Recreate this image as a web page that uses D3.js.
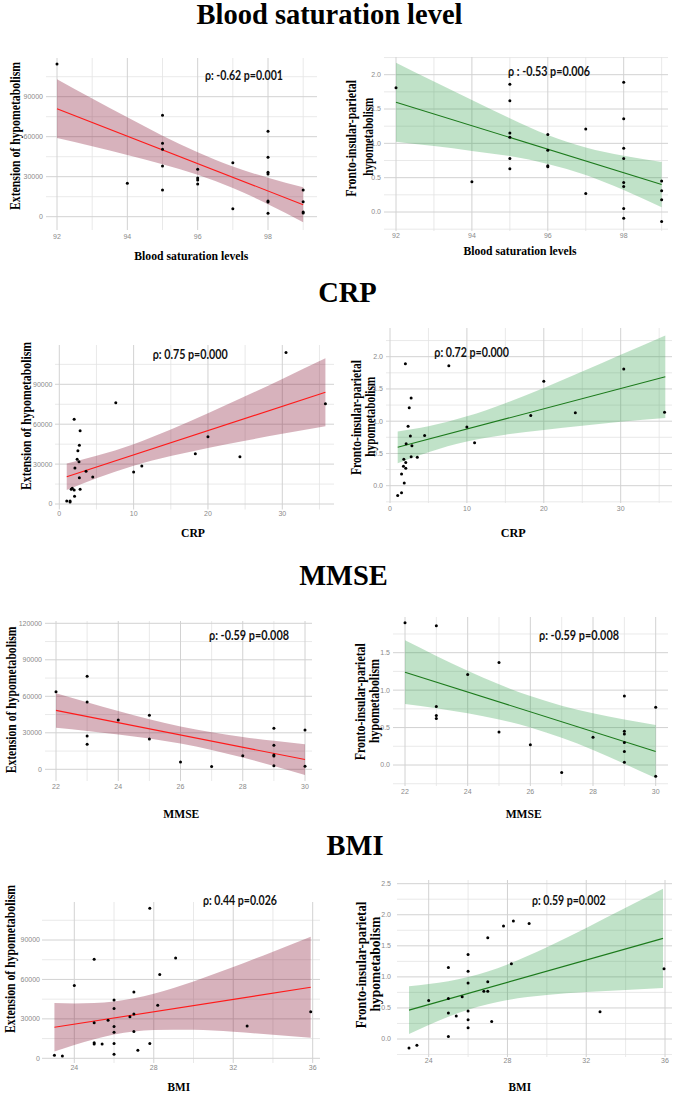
<!DOCTYPE html>
<html><head><meta charset="utf-8">
<script src="https://cdn.jsdelivr.net/npm/d3@7"></script>
<style>body{margin:0;background:#fff}svg{display:block}</style>
</head><body>
<svg id="chart" width="677" height="1095"></svg>
<script>
// ================= DATA =================
const sectionTitles = ["Blood saturation level", "CRP", "MMSE", "BMI"];
const xAxisTitles = ["Blood saturation levels", "Blood saturation levels", "CRP", "CRP", "MMSE", "MMSE", "BMI", "BMI"];
const yTitleExt = ["Extension of hypometabolism"];
const yTitleFronto = ["Fronto-insular-parietal", "hypometabolism"];
const rhoLabels = ["ρ: -0.62 p=0.001", "ρ : -0.53 p=0.006", "ρ: 0.75 p=0.000", "ρ: 0.72 p=0.000",
                   "ρ: -0.59 p=0.008", "ρ: -0.59 p=0.008", "ρ: 0.44 p=0.026", "ρ: 0.59 p=0.002"];

// tick labels
const satTicks = [92, 94, 96, 98];
const crpTicks = [0, 10, 20, 30];
const mmseTicks = [22, 24, 26, 28, 30];
const bmiTicks = [24, 28, 32, 36];
const extTicks = [0, 30000, 60000, 90000];
const extTicksMMSE = [0, 30000, 60000, 90000, 120000];
const frontoTicks2 = [0, 0.5, 1.0, 1.5, 2.0];
const frontoTicksMMSE = [0, 0.5, 1.0, 1.5];
const frontoTicksBMI = [0, 0.5, 1.0, 1.5, 2.0, 2.5];

// --- Blood saturation vs extension
const satExtX = [92, 94, 95, 95, 95, 95, 95, 96, 96, 96, 96, 97, 97, 98, 98, 98, 98, 98, 98, 98, 99, 99, 99, 99];
const satExtY = [114500, 25000, 76000, 55000, 50500, 38000, 20000, 35500, 29000, 27500, 24500, 40500, 6000,
                 64000, 44500, 33300, 32000, 11800, 11000, 2500, 20000, 11300, 3500, 2700];
const satExtFitX = [92, 99], satExtFitY = [81000, 9000];
const satExtBandX = [92, 93, 94, 95, 96, 97, 98, 99];
const satExtBandLo = [59000, 52800, 46300, 39400, 31500, 21600, 9400, -4100];
const satExtBandHi = [103000, 88600, 74500, 60800, 48300, 37600, 29200, 22100];

// --- Blood saturation vs fronto-insular-parietal
const satFroX = [92, 94, 95, 95, 95, 95, 95, 95, 96, 96, 96, 96, 97, 97, 98, 98, 98, 98, 98, 98, 98, 98, 99, 99, 99, 99];
const satFroY = [1.81, 0.44, 1.86, 1.62, 1.15, 1.09, 0.78, 0.63, 1.13, 0.90, 0.675, 0.66, 1.21, 0.27,
                 1.89, 1.36, 0.93, 0.78, 0.43, 0.37, 0.05, -0.09, 0.45, 0.31, 0.18, -0.14];
const satFroFitX = [92, 99], satFroFitY = [1.60, 0.40];
const satFroBandX = [92, 93, 94, 95, 96, 97, 98, 99];
const satFroBandLo = [1.025, 0.96, 0.89, 0.815, 0.70, 0.54, 0.32, 0.07];
const satFroBandHi = [2.175, 1.90, 1.63, 1.365, 1.12, 0.94, 0.82, 0.73];

// --- CRP vs extension
const crpExtX = [30.5, 7.6, 35.8, 2.0, 2.8, 2.7, 2.5, 20.0, 2.4, 2.65, 18.3, 24.3, 11.1, 2.1, 3.6, 10.0, 4.5, 2.7,
                 1.75, 2.0, 2.8, 1.6, 2.05, 1.0, 1.45, 1.45];
const crpExtY = [114000, 76200, 75400, 63700, 55100, 44100, 40100, 50600, 33600, 31800, 37800, 35600, 28600, 27100,
                 24600, 24100, 20300, 19800, 11800, 10500, 11000, 11000, 5800, 2300, 2300, 1500];
const crpExtFitX = [1, 35.8], crpExtFitY = [20500, 84000];
const crpExtBandX = [1, 5, 10, 15, 20, 25, 30, 35.8];
const crpExtBandLo = [10500, 19400, 28800, 36000, 42100, 47600, 52800, 58500];
const crpExtBandHi = [30500, 36200, 45000, 56000, 68300, 81000, 94000, 109500];

// --- CRP vs fronto-insular-parietal
const crpFroX = [2.0, 7.65, 30.4, 20.0, 2.75, 2.5, 35.7, 24.1, 18.3, 2.35, 10.0, 2.65, 4.5, 11.0, 2.1, 2.85,
                 2.75, 3.55, 1.8, 2.05, 1.75, 2.05, 1.5, 1.85, 1.5, 1.0];
const crpFroY = [1.89, 1.86, 1.81, 1.62, 1.36, 1.21, 1.14, 1.13, 1.09, 0.92, 0.91, 0.77, 0.78, 0.665, 0.65, 0.62,
                 0.45, 0.44, 0.41, 0.36, 0.30, 0.27, 0.18, 0.04, -0.11, -0.15];
const crpFroFitX = [1, 35.8], crpFroFitY = [0.595, 1.69];
const crpFroBandX = [1, 5, 10, 15, 20, 25, 30, 35.8];
const crpFroBandLo = [0.35, 0.52, 0.685, 0.79, 0.865, 0.93, 0.99, 1.05];
const crpFroBandHi = [0.84, 0.92, 1.075, 1.28, 1.515, 1.77, 2.03, 2.33];

// --- MMSE vs extension
const mmseExtX = [22, 23, 23, 23, 23, 24, 25, 25, 26, 27, 28, 29, 29, 29, 29, 29, 30, 30];
const mmseExtY = [63800, 76400, 55300, 27400, 20500, 40500, 44400, 24900, 6000, 2200, 11200, 33700, 19700, 11800,
                  11000, 3000, 32300, 2500];
const mmseExtFitX = [22, 30], mmseExtFitY = [48400, 8000];
const mmseExtBandX = [22, 23, 24, 25, 26, 27, 28, 29, 30];
const mmseExtBandLo = [34200, 31550, 28650, 25290, 21140, 15890, 9630, 2700, -4600];
const mmseExtBandHi = [62600, 55150, 47950, 41210, 35260, 30410, 26570, 23400, 20600];

// --- MMSE vs fronto-insular-parietal
const mmseFroX = [22, 23, 23, 23, 23, 24, 25, 25, 26, 27, 28, 29, 29, 29, 29, 29, 29, 30, 30];
const mmseFroY = [1.90, 1.86, 0.78, 0.66, 0.62, 1.21, 1.37, 0.44, 0.27, -0.10, 0.37, 0.92, 0.45, 0.415, 0.30,
                  0.18, 0.036, 0.77, -0.15];
const mmseFroFitX = [22, 30], mmseFroFitY = [1.24, 0.18];
const mmseFroBandX = [22, 23, 24, 25, 26, 27, 28, 29, 30];
const mmseFroBandLo = [0.815, 0.7575, 0.69, 0.6075, 0.50, 0.3625, 0.20, 0.0175, -0.175];
const mmseFroBandHi = [1.665, 1.4575, 1.26, 1.0775, 0.92, 0.7925, 0.69, 0.6075, 0.535];

// --- BMI vs extension
const bmiExtX = [27.8, 25.0, 29.1, 28.3, 24.0, 27.0, 26.0, 28.2, 26.0, 27.0, 26.8, 25.7, 25.0, 32.7, 26.0, 26.0,
                 27.0, 35.9, 25.0, 25.0, 25.4, 26.0, 27.8, 27.2, 26.0, 23.0, 23.4];
const bmiExtY = [114100, 75300, 76300, 63700, 55300, 50500, 44400, 40300, 37800, 33700, 31700, 28900, 27100,
                 24600, 24100, 19800, 20300, 35500, 11900, 10900, 10900, 11200, 11200, 6100, 3000, 2300, 1800];
const bmiExtFitX = [23, 35.9], bmiExtFitY = [23600, 54000];
const bmiExtBandX = [23, 24, 25, 26, 27, 28, 30, 32, 34, 35.9];
const bmiExtBandLo = [5200, 10160, 14510, 18070, 20430, 21590, 21700, 20220, 17930, 15600];
const bmiExtBandHi = [42000, 41760, 42110, 43270, 45630, 49190, 58500, 69420, 81130, 92400];

// --- BMI vs fronto-insular-parietal
const bmiFroX = [28.3, 27.8, 29.1, 27.0, 26.0, 28.2, 25.0, 35.95, 26.0, 27.0, 26.0, 26.8, 27.0, 25.7, 25.0, 24.0,
                 26.0, 25.0, 32.7, 25.4, 26.0, 27.2, 26.0, 25.0, 23.0, 23.4];
const bmiFroY = [1.90, 1.82, 1.86, 1.63, 1.36, 1.21, 1.15, 1.13, 1.09, 0.92, 0.90, 0.77, 0.77, 0.68, 0.65, 0.62,
                 0.45, 0.42, 0.44, 0.37, 0.31, 0.28, 0.18, 0.04, -0.145, -0.10];
const bmiFroFitX = [23, 35.9], bmiFroFitY = [0.465, 1.62];
const bmiFroBandX = [23, 24, 25, 26, 27, 28, 30, 32, 34, 35.9];
const bmiFroBandLo = [0.08, 0.225, 0.357, 0.471, 0.56, 0.626, 0.707, 0.755, 0.789, 0.82];
const bmiFroBandHi = [0.85, 0.885, 0.931, 0.997, 1.086, 1.20, 1.477, 1.787, 2.111, 2.42];

// ================= LAYOUT =================
const RED = {band: "#8b2240", bandOp: 0.35, line: "#ff1a1a"};
const GREEN = {band: "#2e9e48", bandOp: 0.3, line: "#1c7a1c"};
const fmtInt = d3.format("d"), fmt1 = d3.format(".1f");

const panels = [
  {px: satExtX, py: satExtY, fx: satExtFitX, fy: satExtFitY, bx: satExtBandX, blo: satExtBandLo, bhi: satExtBandHi,
   col: RED, xt: satTicks, yt: extTicks, yf: fmtInt,
   xs: [92, 98, 57, 268], ys: [0, 90000, 216.7, 96.7], rect: [46, 317, 58, 230], xLabY: 237, yLabX: 43,
   rho: [205, 75, 78], xTitle: [191.3, 260, 114], yTitle: yTitleExt, yPos: [[14.2, 136, 148]]},
  {px: satFroX, py: satFroY, fx: satFroFitX, fy: satFroFitY, bx: satFroBandX, blo: satFroBandLo, bhi: satFroBandHi,
   col: GREEN, xt: satTicks, yt: frontoTicks2, yf: fmt1,
   xs: [92, 98, 396, 623.7], ys: [0, 2, 212, 74.7], rect: [384, 668, 57, 231], xLabY: 236, yLabX: 381,
   rho: [508, 71, 82], xTitle: [520, 255, 113], yTitle: yTitleFronto, yPos: [[350.5, 138.3, 116.7], [367.5, 136.7, 78]]},
  {px: crpExtX, py: crpExtY, fx: crpExtFitX, fy: crpExtFitY, bx: crpExtBandX, blo: crpExtBandLo, bhi: crpExtBandHi,
   col: RED, xt: crpTicks, yt: extTicks, yf: fmtInt,
   xs: [0, 30, 59.3, 282.3], ys: [0, 90000, 504, 384.3], rect: [55, 334, 345, 509.5], xLabY: 514, yLabX: 52.5,
   rho: [152.7, 354, 75], xTitle: [193, 537, 24], yTitle: yTitleExt, yPos: [[25, 416, 148]]},
  {px: crpFroX, py: crpFroY, fx: crpFroFitX, fy: crpFroFitY, bx: crpFroBandX, blo: crpFroBandLo, bhi: crpFroBandHi,
   col: GREEN, xt: crpTicks, yt: frontoTicks2, yf: fmt1,
   xs: [0, 30, 390, 620.7], ys: [0, 2, 485.7, 356.7], rect: [386, 672, 328, 503], xLabY: 509, yLabX: 383,
   rho: [434.3, 352.3, 74.7], xTitle: [513.3, 537, 25], yTitle: yTitleFronto, yPos: [[355.9, 417.5, 115], [370.4, 416.7, 80]]},
  {px: mmseExtX, py: mmseExtY, fx: mmseExtFitX, fy: mmseExtFitY, bx: mmseExtBandX, blo: mmseExtBandLo, bhi: mmseExtBandHi,
   col: RED, xt: mmseTicks, yt: extTicksMMSE, yf: fmtInt,
   xs: [22, 30, 56, 305], ys: [0, 120000, 769.3, 623.3], rect: [45, 312, 621, 781], xLabY: 787, yLabX: 42,
   rho: [209, 635, 80], xTitle: [181.3, 818, 36], yTitle: yTitleExt, yPos: [[10, 700, 146.7]]},
  {px: mmseFroX, py: mmseFroY, fx: mmseFroFitX, fy: mmseFroFitY, bx: mmseFroBandX, blo: mmseFroBandLo, bhi: mmseFroBandHi,
   col: GREEN, xt: mmseTicks, yt: frontoTicksMMSE, yf: fmt1,
   xs: [22, 30, 405, 655.7], ys: [0, 1.5, 765, 652.7], rect: [393, 668, 617, 786], xLabY: 792, yLabX: 390,
   rho: [539, 635, 80], xTitle: [523.7, 818, 36], yTitle: yTitleFronto, yPos: [[359.9, 701.7, 117], [374, 701, 84]]},
  {px: bmiExtX, py: bmiExtY, fx: bmiExtFitX, fy: bmiExtFitY, bx: bmiExtBandX, blo: bmiExtBandLo, bhi: bmiExtBandHi,
   col: RED, xt: bmiTicks, yt: extTicks, yf: fmtInt,
   xs: [24, 36, 74.3, 312.7], ys: [0, 90000, 1058.3, 940], rect: [42, 320, 902, 1063], xLabY: 1067.5, yLabX: 40,
   rho: [203, 900, 74], xTitle: [178.8, 1091, 22.5], yTitle: yTitleExt, yPos: [[9.5, 959, 148]]},
  {px: bmiFroX, py: bmiFroY, fx: bmiFroFitX, fy: bmiFroFitY, bx: bmiFroBandX, blo: bmiFroBandLo, bhi: bmiFroBandHi,
   col: GREEN, xt: bmiTicks, yt: frontoTicksBMI, yf: fmt1,
   xs: [24, 36, 428.7, 665], ys: [0, 2.5, 1039, 883.7], rect: [397, 672, 880, 1057], xLabY: 1061, yLabX: 391,
   rho: [532, 900, 73.7], xTitle: [519.8, 1091, 22.5], yTitle: yTitleFronto, yPos: [[361.4, 965, 126.7], [375.4, 964, 95]]}
];

const titlePos = [[329.5, 24], [347.5, 301.5], [343.5, 585], [355, 855]];

// ================= DRAW =================
const svg = d3.select("#chart");
svg.append("rect").attr("width", 677).attr("height", 1095).attr("fill", "#fff");

sectionTitles.forEach((t, i) => {
  svg.append("text").attr("x", titlePos[i][0]).attr("y", titlePos[i][1])
    .attr("text-anchor", "middle").attr("font-family", "'Liberation Serif','Times New Roman',serif")
    .attr("font-weight", "bold").attr("font-size", 28.5).attr("fill", "#000").text(t);
});

function minorVals(ticks, dom) {
  const step = ticks[1] - ticks[0];
  const lo = Math.min(dom[0], dom[1]), hi = Math.max(dom[0], dom[1]);
  return d3.range(ticks[0] - step * 10 - step / 2, ticks[ticks.length - 1] + step * 10, step)
    .filter(v => v >= lo && v <= hi);
}
function majorVals(ticks, dom) {
  const step = ticks[1] - ticks[0];
  const lo = Math.min(dom[0], dom[1]), hi = Math.max(dom[0], dom[1]);
  return d3.range(ticks[0] - step * 10, ticks[ticks.length - 1] + step * 10 + step / 2, step)
    .filter(v => v >= lo - 1e-9 && v <= hi + 1e-9);
}

panels.forEach((p, i) => {
  const x = d3.scaleLinear().domain([p.xs[0], p.xs[1]]).range([p.xs[2], p.xs[3]]);
  const y = d3.scaleLinear().domain([p.ys[0], p.ys[1]]).range([p.ys[2], p.ys[3]]);
  const [L, R, T, B] = p.rect;
  const xDom = [x.invert(L), x.invert(R)], yDom = [y.invert(B), y.invert(T)];
  const g = svg.append("g");

  // grid
  const grid = g.append("g");
  minorVals(p.xt, xDom).forEach(v => grid.append("line").attr("x1", x(v)).attr("x2", x(v)).attr("y1", T).attr("y2", B)
    .attr("stroke", "#e3e3e3").attr("stroke-width", 0.8));
  minorVals(p.yt, yDom).forEach(v => grid.append("line").attr("y1", y(v)).attr("y2", y(v)).attr("x1", L).attr("x2", R)
    .attr("stroke", "#e3e3e3").attr("stroke-width", 0.8));
  majorVals(p.xt, xDom).forEach(v => grid.append("line").attr("x1", x(v)).attr("x2", x(v)).attr("y1", T).attr("y2", B)
    .attr("stroke", "#d2d2d2").attr("stroke-width", 1));
  majorVals(p.yt, yDom).forEach(v => grid.append("line").attr("y1", y(v)).attr("y2", y(v)).attr("x1", L).attr("x2", R)
    .attr("stroke", "#d2d2d2").attr("stroke-width", 1));

  // tick labels
  p.xt.forEach(v => g.append("text").attr("x", x(v)).attr("y", p.xLabY).attr("dy", "0.35em")
    .attr("text-anchor", "middle").attr("font-family", "'Liberation Sans',Arial,sans-serif")
    .attr("font-size", 7).attr("fill", "#8a8a8a").text(v));
  p.yt.forEach(v => g.append("text").attr("x", p.yLabX).attr("y", y(v)).attr("dy", "0.35em")
    .attr("text-anchor", "end").attr("font-family", "'Liberation Sans',Arial,sans-serif")
    .attr("font-size", 7).attr("fill", "#8a8a8a").text(p.yf(v)));

  // band
  const bandData = p.bx.map((v, k) => ({x: v, lo: p.blo[k], hi: p.bhi[k]}));
  g.append("path").datum(bandData)
    .attr("d", d3.area().x(d => x(d.x)).y0(d => y(d.lo)).y1(d => y(d.hi)).curve(d3.curveMonotoneX))
    .attr("fill", p.col.band).attr("fill-opacity", p.col.bandOp);
  // fit line
  const fitData = p.fx.map((v, k) => ({x: v, y: p.fy[k]}));
  g.append("path").datum(fitData)
    .attr("d", d3.line().x(d => x(d.x)).y(d => y(d.y)))
    .attr("fill", "none").attr("stroke", p.col.line).attr("stroke-width", 1.1);
  // points
  g.selectAll("circle.pt").data(p.px.map((v, k) => [v, p.py[k]])).enter().append("circle")
    .attr("cx", d => x(d[0])).attr("cy", d => y(d[1])).attr("r", 1.5).attr("fill", "#000");

  // rho annotation
  g.append("text").attr("x", p.rho[0]).attr("y", p.rho[1]).attr("dy", "0.36em")
    .attr("font-family", "Lato,'Open Sans',sans-serif").attr("font-weight", "bold").attr("font-size", 12.5)
    .attr("textLength", p.rho[2]).attr("lengthAdjust", "spacingAndGlyphs").attr("fill", "#111")
    .text(rhoLabels[i]);

  // x axis title
  g.append("text").attr("x", p.xTitle[0]).attr("y", p.xTitle[1]).attr("text-anchor", "middle")
    .attr("font-family", "'Liberation Serif','Times New Roman',serif").attr("font-weight", "bold")
    .attr("font-size", 13.5).attr("textLength", p.xTitle[2]).attr("lengthAdjust", "spacingAndGlyphs")
    .attr("fill", "#000").text(xAxisTitles[i]);

  // y axis title
  p.yTitle.forEach((t, k) => {
    const [cx, cy, len] = p.yPos[k];
    g.append("text").attr("transform", `translate(${cx},${cy}) rotate(-90)`)
      .attr("text-anchor", "middle").attr("dominant-baseline", "central")
      .attr("font-family", "'Liberation Serif','Times New Roman',serif").attr("font-weight", "bold")
      .attr("font-size", p.yTitle.length > 1 ? 15 : 15.5).attr("textLength", len).attr("lengthAdjust", "spacingAndGlyphs")
      .attr("fill", "#000").text(t);
  });
});
</script>
</body></html>
